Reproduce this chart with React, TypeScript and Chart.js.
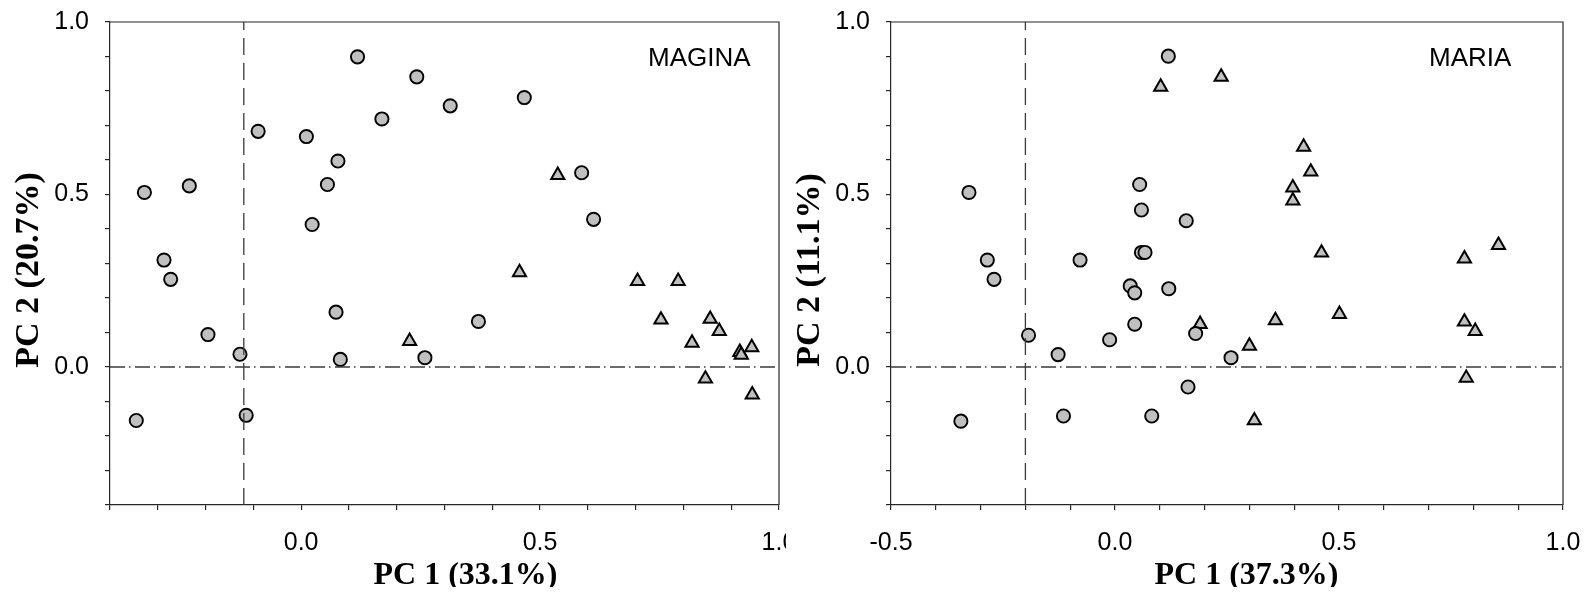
import React, { useEffect, useRef } from 'react';
import { Chart, registerables } from 'chart.js';

Chart.register(...registerables);

// ---------- DATA ----------
// MAGINA panel
const maginaCircleX = [-0.345, -0.328, -0.287, -0.273, -0.234, -0.195, -0.128, -0.115, -0.09, 0.011, 0.023, 0.055, 0.073, 0.077, 0.082, 0.118, 0.169, 0.242, 0.259, 0.312, 0.371, 0.467, 0.587, 0.612];
const maginaCircleY = [-0.155, 0.506, 0.31, 0.254, 0.525, 0.094, 0.037, -0.14, 0.683, 0.668, 0.413, 0.529, 0.159, 0.597, 0.022, 0.899, 0.719, 0.841, 0.027, 0.757, 0.132, 0.781, 0.563, 0.428];
const maginaTriangleX = [0.227, 0.457, 0.537, 0.704, 0.753, 0.789, 0.818, 0.846, 0.856, 0.875, 0.918, 0.921, 0.943, 0.944];
const maginaTriangleY = [0.075, 0.274, 0.556, 0.249, 0.137, 0.249, 0.07, -0.034, 0.139, 0.104, 0.043, 0.035, 0.057, -0.08];

// MARIA panel
const mariaCircleX = [-0.344, -0.326, -0.285, -0.27, -0.193, -0.127, -0.115, -0.078, -0.012, 0.034, 0.044, 0.044, 0.055, 0.059, 0.059, 0.067, 0.082, 0.119, 0.12, 0.159, 0.163, 0.18, 0.259];
const mariaCircleY = [-0.157, 0.506, 0.31, 0.254, 0.092, 0.036, -0.142, 0.31, 0.079, 0.235, 0.215, 0.124, 0.529, 0.455, 0.332, 0.332, -0.142, 0.901, 0.227, 0.424, -0.058, 0.097, 0.027];
const mariaTriangleX = [0.102, 0.19, 0.237, 0.3, 0.311, 0.358, 0.397, 0.397, 0.421, 0.437, 0.461, 0.501, 0.78, 0.78, 0.784, 0.804, 0.856];
const mariaTriangleY = [0.812, 0.124, 0.841, 0.061, -0.155, 0.135, 0.52, 0.482, 0.638, 0.566, 0.331, 0.153, 0.314, 0.131, -0.032, 0.104, 0.353];

// Axes
const maginaXMin = -0.4;
const mariaXMin = -0.5;
const xMax = 1.0;
const yMin = -0.4;
const yMax = 1.0;
const maginaRefX = -0.12;
const mariaRefX = -0.2;
const refY = 0;
const tickStep = 0.1;

// Text
const maginaLabel = 'MAGINA';
const mariaLabel = 'MARIA';
const maginaXTitle = 'PC 1 (33.1%)';
const maginaYTitle = 'PC 2 (20.7%)';
const mariaXTitle = 'PC 1 (37.3%)';
const mariaYTitle = 'PC 2 (11.1%)';

// ---------- STYLE ----------
const axisColor = '#262626';
const markerFill = '#c0c0c0';
const sansFamily = '"Liberation Sans", Arial, Helvetica, sans-serif';
const serifFamily = '"Liberation Serif", "Times New Roman", serif';

const zip = (xs: number[], ys: number[]) => xs.map((x, i) => ({ x, y: ys[i] }));

const fmtTick = (v: any) => {
  const n = Number(v);
  if (Math.abs(n) < 1e-9) return '0.0';
  return Math.abs(n * 2 - Math.round(n * 2)) < 1e-6 ? n.toFixed(1) : '';
};

const decorPlugin = {
  id: 'decor',
  afterDraw(chart: any, _args: any, opts: any) {
    const { ctx, chartArea: a } = chart;
    ctx.save();
    // frame (top and right)
    ctx.strokeStyle = axisColor;
    ctx.lineWidth = 1.2;
    ctx.beginPath();
    ctx.moveTo(a.left, a.top);
    ctx.lineTo(a.right, a.top);
    ctx.lineTo(a.right, a.bottom);
    ctx.stroke();
    // panel label
    ctx.fillStyle = '#000';
    ctx.font = `26px ${sansFamily}`;
    ctx.textAlign = 'left';
    ctx.textBaseline = 'alphabetic';
    ctx.fillText(opts.label, a.left + 538, a.top + 44);
    // x title
    ctx.font = `bold 32px ${serifFamily}`;
    ctx.textAlign = 'center';
    ctx.fillText(opts.xTitle, a.left + 355.5, 584);
    // y title
    ctx.font = `bold 34px ${serifFamily}`;
    ctx.translate(a.left - 72, opts.yTitleCenter);
    ctx.rotate(-Math.PI / 2);
    ctx.fillText(opts.yTitle, 0, 0);
    ctx.restore();
  },
};

type PanelProps = {
  cx: number[]; cy: number[]; tx: number[]; ty: number[];
  xMin: number; refX: number;
  label: string; xTitle: string; yTitle: string; yTitleCenter: number;
  left: number; clipWidth: number; canvasWidth: number; plotRight: number; z: number;
};

const CANVAS_H = 587;
const PLOT_TOP = 22;
const PLOT_BOTTOM = 505;
const PLOT_LEFT = 110;

function Panel(p: PanelProps) {
  const ref = useRef<HTMLCanvasElement>(null);
  useEffect(() => {
    if (!ref.current) return;
    const tickFont = { family: sansFamily, size: 25 };
    const chart = new Chart(ref.current, {
      type: 'scatter',
      data: {
        datasets: [
          {
            data: [{ x: p.xMin, y: refY }, { x: xMax, y: refY }],
            showLine: true, pointRadius: 0, borderColor: '#3a3a3a', borderWidth: 1.3,
            borderDash: [15, 4, 1.5, 4.5], order: 0,
          } as any,
          {
            data: [{ x: p.refX, y: yMin }, { x: p.refX, y: yMax }],
            showLine: true, pointRadius: 0, borderColor: '#3a3a3a', borderWidth: 1.3,
            borderDash: [17, 8], order: 0,
          } as any,
          {
            data: zip(p.cx, p.cy), pointStyle: 'circle', pointRadius: 6.6,
            backgroundColor: markerFill, borderColor: '#000', borderWidth: 1.9, order: 1,
          },
          {
            data: zip(p.tx, p.ty), pointStyle: 'triangle', pointRadius: 7.6,
            backgroundColor: markerFill, borderColor: '#000', borderWidth: 2, order: 1,
          },
        ],
      },
      options: {
        responsive: false,
        maintainAspectRatio: false,
        animation: false,
        devicePixelRatio: 1,
        layout: { padding: { top: PLOT_TOP, right: p.canvasWidth - p.plotRight, left: 0, bottom: 0 } },
        plugins: {
          legend: { display: false },
          tooltip: { enabled: false },
          decor: { label: p.label, xTitle: p.xTitle, yTitle: p.yTitle, yTitleCenter: p.yTitleCenter },
        } as any,
        scales: {
          x: {
            type: 'linear', position: 'bottom', min: p.xMin, max: xMax,
            ticks: { stepSize: tickStep, autoSkip: false, maxRotation: 0, minRotation: 0, padding: 18, color: '#000', font: tickFont, callback: fmtTick },
            grid: { drawOnChartArea: false, drawTicks: true, tickLength: 5, color: axisColor, lineWidth: 1.2 },
            border: { display: true, color: axisColor, width: 1.2 },
            afterFit: (s: any) => { s.height = CANVAS_H - PLOT_BOTTOM; s.paddingLeft = 0; s.paddingRight = 0; },
          },
          y: {
            type: 'linear', min: yMin, max: yMax,
            ticks: { stepSize: tickStep, autoSkip: false, padding: 16, color: '#000', font: tickFont, callback: fmtTick },
            grid: { drawOnChartArea: false, drawTicks: true, tickLength: 5, color: axisColor, lineWidth: 1.2 },
            border: { display: true, color: axisColor, width: 1.2 },
            afterFit: (s: any) => { s.width = PLOT_LEFT; s.paddingTop = 0; s.paddingBottom = 0; },
          },
        },
      } as any,
      plugins: [decorPlugin],
    });
    return () => chart.destroy();
  }, []);
  return (
    <div style={{ position: 'absolute', left: p.left, top: 0, width: p.clipWidth, height: CANVAS_H, overflow: 'hidden', zIndex: p.z }}>
      <canvas ref={ref} width={p.canvasWidth} height={CANVAS_H} style={{ width: p.canvasWidth, height: CANVAS_H, display: 'block' }} />
    </div>
  );
}

export default function App() {
  return (
    <div style={{ position: 'relative', marginTop: -8, marginLeft: -8, width: 1595, height: CANVAS_H, background: '#fff' }}>
      <Panel
        cx={maginaCircleX} cy={maginaCircleY} tx={maginaTriangleX} ty={maginaTriangleY}
        xMin={maginaXMin} refX={maginaRefX}
        label={maginaLabel} xTitle={maginaXTitle} yTitle={maginaYTitle} yTitleCenter={270}
        left={0} clipWidth={786} canvasWidth={812} plotRight={779} z={1}
      />
      <Panel
        cx={mariaCircleX} cy={mariaCircleY} tx={mariaTriangleX} ty={mariaTriangleY}
        xMin={mariaXMin} refX={mariaRefX}
        label={mariaLabel} xTitle={mariaXTitle} yTitle={mariaYTitle} yTitleCenter={270}
        left={781} clipWidth={814} canvasWidth={814} plotRight={782} z={0}
      />
    </div>
  );
}
